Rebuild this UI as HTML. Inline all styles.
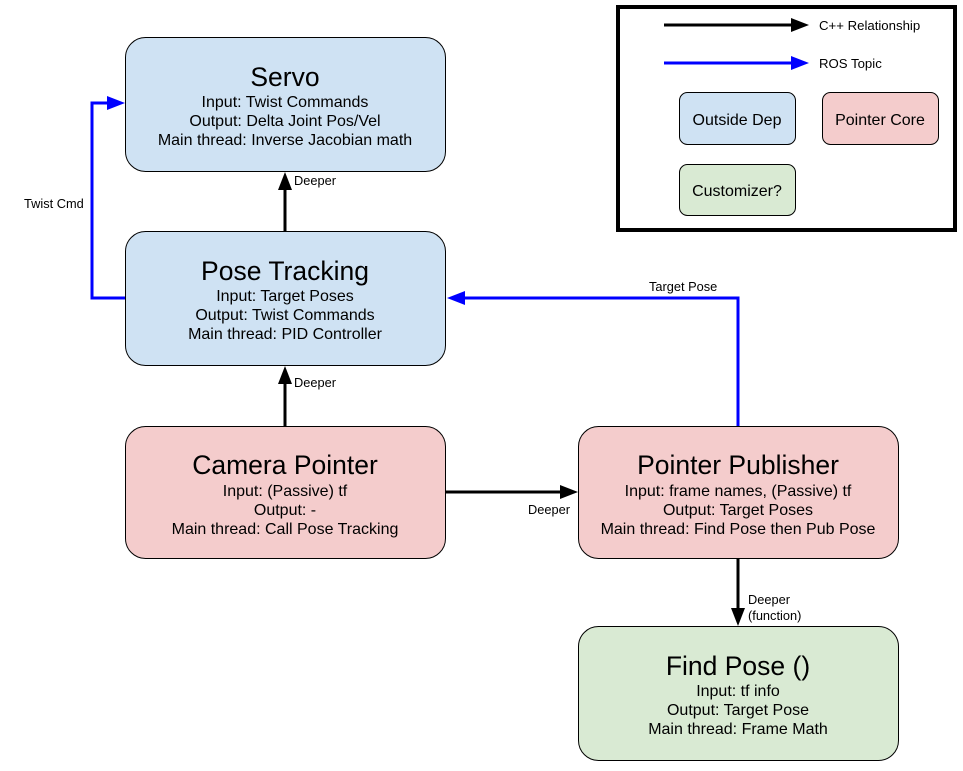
<!DOCTYPE html>
<html><head><meta charset="utf-8"><style>
html,body{margin:0;padding:0;background:#fff}
svg{display:block}
text{font-family:"Liberation Sans",sans-serif;fill:#000}
.t{font-size:26.5px;text-anchor:middle}
.b{font-size:16px;text-anchor:middle}
.s{font-size:12.8px}
.l{font-size:13.2px}
</style></head><body>
<svg width="963" height="771" viewBox="0 0 963 771" xmlns="http://www.w3.org/2000/svg">
<!-- Legend -->
<rect x="618" y="7" width="337" height="223" fill="#fff" stroke="#000" stroke-width="4"/>
<line x1="664" y1="25" x2="792" y2="25" stroke="#000" stroke-width="3"/>
<polygon points="791,18 809,25 791,32" fill="#000"/>
<text class="l" x="819" y="30">C++ Relationship</text>
<line x1="664" y1="63" x2="792" y2="63" stroke="#0000ff" stroke-width="3"/>
<polygon points="791,56 809,63 791,70" fill="#0000ff"/>
<text class="l" x="819" y="68">ROS Topic</text>
<rect x="679.5" y="92.5" width="116" height="52" rx="8" fill="#cfe2f3" stroke="#000"/>
<text class="b" x="737" y="125">Outside Dep</text>
<rect x="822.5" y="92.5" width="116" height="52" rx="8" fill="#f4cccc" stroke="#000"/>
<text class="b" x="880" y="125">Pointer Core</text>
<rect x="679.5" y="164.5" width="116" height="51" rx="8" fill="#d9ead3" stroke="#000"/>
<text class="b" x="737" y="196">Customizer?</text>

<!-- Boxes -->
<rect x="125.5" y="37.5" width="320" height="134" rx="20" fill="#cfe2f3" stroke="#000"/>
<text class="t" x="285" y="86">Servo</text>
<text class="b" x="285" y="107">Input: Twist Commands</text>
<text class="b" x="285" y="126">Output: Delta Joint Pos/Vel</text>
<text class="b" x="285" y="145">Main thread: Inverse Jacobian math</text>

<rect x="125.5" y="231.5" width="320" height="134" rx="20" fill="#cfe2f3" stroke="#000"/>
<text class="t" x="285" y="280">Pose Tracking</text>
<text class="b" x="285" y="301">Input: Target Poses</text>
<text class="b" x="285" y="320">Output: Twist Commands</text>
<text class="b" x="285" y="339">Main thread: PID Controller</text>

<rect x="125.5" y="426.5" width="320" height="132" rx="20" fill="#f4cccc" stroke="#000"/>
<text class="t" x="285" y="474">Camera Pointer</text>
<text class="b" x="285" y="496">Input: (Passive) tf</text>
<text class="b" x="285" y="515">Output: -</text>
<text class="b" x="285" y="534">Main thread: Call Pose Tracking</text>

<rect x="578.5" y="426.5" width="320" height="132" rx="20" fill="#f4cccc" stroke="#000"/>
<text class="t" x="738" y="474">Pointer Publisher</text>
<text class="b" x="738" y="496">Input: frame names, (Passive) tf</text>
<text class="b" x="738" y="515">Output: Target Poses</text>
<text class="b" x="738" y="534">Main thread: Find Pose then Pub Pose</text>

<rect x="578.5" y="626.5" width="320" height="134" rx="20" fill="#d9ead3" stroke="#000"/>
<text class="t" x="738" y="675">Find Pose ()</text>
<text class="b" x="738" y="696">Input: tf info</text>
<text class="b" x="738" y="715">Output: Target Pose</text>
<text class="b" x="738" y="734">Main thread: Frame Math</text>

<!-- Black arrows -->
<line x1="285" y1="231" x2="285" y2="188" stroke="#000" stroke-width="3"/>
<polygon points="278,190 285,172 292,190" fill="#000"/>
<text class="s" x="294" y="185">Deeper</text>

<line x1="285" y1="426" x2="285" y2="382" stroke="#000" stroke-width="3"/>
<polygon points="278,384 285,366 292,384" fill="#000"/>
<text class="s" x="294" y="387">Deeper</text>

<line x1="445" y1="492" x2="562" y2="492" stroke="#000" stroke-width="3"/>
<polygon points="560,485 578,492 560,499" fill="#000"/>
<text class="s" x="528" y="514">Deeper</text>

<line x1="738" y1="558" x2="738" y2="610" stroke="#000" stroke-width="3"/>
<polygon points="731,608 738,626 745,608" fill="#000"/>
<text class="s" x="748" y="604">Deeper</text>
<text class="s" x="748" y="620">(function)</text>

<!-- Blue arrows -->
<polyline points="125,298 92,298 92,103 109,103" fill="none" stroke="#0000ff" stroke-width="3"/>
<polygon points="107,96 125,103 107,110" fill="#0000ff"/>
<text class="s" x="24" y="208">Twist Cmd</text>

<polyline points="738,426 738,298 463,298" fill="none" stroke="#0000ff" stroke-width="3"/>
<polygon points="465,291 447,298 465,305" fill="#0000ff"/>
<text class="s" x="649" y="291">Target Pose</text>
</svg>
</body></html>
